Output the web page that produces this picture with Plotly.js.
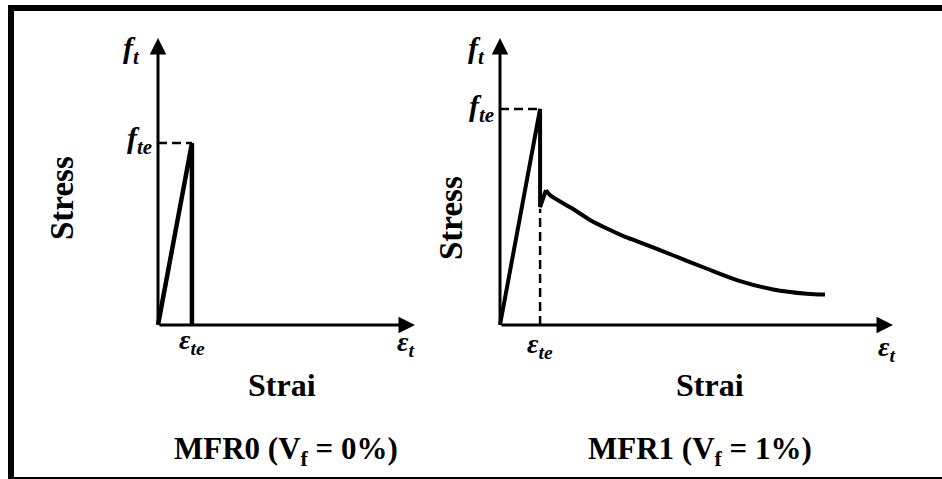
<!DOCTYPE html>
<html>
<head>
<meta charset="utf-8">
<script src="https://cdn.plot.ly/plotly-3.0.1.min.js"></script>
<style>
  html, body { margin: 0; padding: 0; background: #ffffff; }
  #chart { width: 942px; height: 479px; }
</style>
</head>
<body>
<div id="chart"></div>
<script>
// Schematic tensile stress-strain responses (normalised units:
// strain axis runs 0..10, stress axis runs 0..1 up to the arrow tips)

// MFR0: plain matrix, linear rise then sudden brittle failure
const mfr0Strain = [0, 1.32, 1.32];
const mfr0Stress = [0, 0.634, 0];

// MFR1: 1% fibres, linear rise, drop after cracking, small recovery
const mfr1Strain = [0, 1.02, 1.02, 1.17];
const mfr1Stress = [0, 0.753, 0.411, 0.470];

// MFR1 post-cracking softening branch
const softStrain = [1.17, 1.27, 1.86, 2.29, 2.72, 3.14, 3.56, 4.40, 5.27, 6.11, 6.95, 7.81, 8.27];
const softStress = [0.470, 0.453, 0.404, 0.366, 0.336, 0.310, 0.288, 0.243, 0.196, 0.153, 0.124, 0.109, 0.106];

// Peak points (cracking strength f_te at strain eps_te)
const peak0 = { strain: 1.32, stress: 0.634 };
const peak1 = { strain: 1.02, stress: 0.753 };

const panelTitles = ['MFR0 (V<sub>f</sub> = 0%)', 'MFR1 (V<sub>f</sub> = 1%)'];
const xLabel = 'Strai';
const yLabel = 'Stress';

const W = 942, H = 479;
const FONT = '"Liberation Serif", "Times New Roman", "DejaVu Serif", serif';
const X_END = 10, Y_END = 1;
const XPAD = 0.5, YPAD = 0.05;

const px = p => p / W;
const py = p => 1 - p / H;

// pixel anchors for each panel: origin and arrow tips
function domains(ox, tipX, oy, tipY) {
  const ux = (tipX - ox) / X_END;
  const uy = (oy - tipY) / Y_END;
  return {
    x: [px(ox - XPAD * ux), px(tipX + XPAD * ux)],
    y: [py(oy + YPAD * uy), py(tipY - YPAD * uy)]
  };
}
const dL = domains(158, 415, 325, 38);
const dR = domains(500, 893, 325, 38);

function hiddenAxis(domain, range, anchor) {
  return {
    domain: domain, range: range, anchor: anchor,
    showgrid: false, zeroline: false, showline: false,
    showticklabels: false, ticks: '', fixedrange: true
  };
}

const solid = { color: '#000', width: 4 };
const dashed = { color: '#000', width: 2.5, dash: '9px,5px' };

const traces = [
  { x: mfr0Strain, y: mfr0Stress, xaxis: 'x', yaxis: 'y', mode: 'lines',
    line: { color: '#000', width: 4.5 }, hoverinfo: 'skip' },
  { x: [0, peak0.strain], y: [peak0.stress, peak0.stress], xaxis: 'x', yaxis: 'y',
    mode: 'lines', line: dashed, hoverinfo: 'skip' },

  { x: [peak1.strain, peak1.strain], y: [0, 0.405], xaxis: 'x2', yaxis: 'y2',
    mode: 'lines', line: dashed, hoverinfo: 'skip' },
  { x: [0, peak1.strain], y: [peak1.stress, peak1.stress], xaxis: 'x2', yaxis: 'y2',
    mode: 'lines', line: dashed, hoverinfo: 'skip' },
  { x: mfr1Strain, y: mfr1Stress, xaxis: 'x2', yaxis: 'y2', mode: 'lines',
    line: solid, hoverinfo: 'skip' },
  { x: softStrain, y: softStress, xaxis: 'x2', yaxis: 'y2', mode: 'lines',
    line: { color: '#000', width: 4, shape: 'spline', smoothing: 0.8 }, hoverinfo: 'skip' }
];

function axisArrow(xr, yr, x, y) {
  return {
    xref: xr, yref: yr, axref: xr, ayref: yr,
    x: x, y: y, ax: 0, ay: 0, text: '',
    showarrow: true, arrowhead: 2, arrowsize: 1.1, arrowwidth: 3,
    arrowcolor: '#000', standoff: 0, startstandoff: 0
  };
}

function label(text, x, y, size, extra) {
  return Object.assign({
    xref: 'paper', yref: 'paper', x: x, y: y, text: text,
    showarrow: false, xanchor: 'center', yanchor: 'middle',
    font: { family: FONT, size: size, color: '#000' }
  }, extra || {});
}

const SYM = 30, EPS = 28, AXT = 32, VT = 33, TT = 31;

const annotations = [
  // axes with arrowheads
  axisArrow('x', 'y', X_END, 0), axisArrow('x', 'y', 0, Y_END),
  axisArrow('x2', 'y2', X_END, 0), axisArrow('x2', 'y2', 0, Y_END),

  // left panel
  label('<b><i>f<sub>t</sub></i></b>', px(131), py(50), SYM),
  label('<b><i>f<sub>te</sub></i></b>', 0, peak0.stress, SYM,
        { xref: 'x', yref: 'y', xanchor: 'right', xshift: -4, yshift: 3 }),
  label('<b><i>ε<sub>te</sub></i></b>', peak0.strain, py(341), EPS, { xref: 'x' }),
  label('<b><i>ε<sub>t</sub></i></b>', px(405), py(343), EPS),
  label('<b>' + yLabel + '</b>', px(62), py(198), VT, { textangle: -90 }),
  label('<b>' + xLabel + '</b>', px(282), py(385), AXT),
  label('<b>' + panelTitles[0] + '</b>', px(286), py(451), TT),

  // right panel
  label('<b><i>f<sub>t</sub></i></b>', px(476), py(50), SYM),
  label('<b><i>f<sub>te</sub></i></b>', 0, peak1.stress, SYM,
        { xref: 'x2', yref: 'y2', xanchor: 'right', xshift: -4, yshift: 1 }),
  label('<b><i>ε<sub>te</sub></i></b>', peak1.strain, py(345), EPS, { xref: 'x2' }),
  label('<b><i>ε<sub>t</sub></i></b>', px(886), py(348), EPS),
  label('<b>' + yLabel + '</b>', px(451), py(218), VT, { textangle: -90 }),
  label('<b>' + xLabel + '</b>', px(710), py(385), AXT),
  label('<b>' + panelTitles[1] + '</b>', px(700), py(451), TT)
];

const layout = {
  width: W, height: H,
  margin: { l: 0, r: 0, t: 0, b: 0 },
  paper_bgcolor: '#ffffff', plot_bgcolor: 'rgba(0,0,0,0)',
  showlegend: false,
  font: { family: FONT, color: '#000' },
  xaxis: hiddenAxis(dL.x, [-XPAD, X_END + XPAD], 'y'),
  yaxis: hiddenAxis(dL.y, [-YPAD, Y_END + YPAD], 'x'),
  xaxis2: hiddenAxis(dR.x, [-XPAD, X_END + XPAD], 'y2'),
  yaxis2: hiddenAxis(dR.y, [-YPAD, Y_END + YPAD], 'x2'),
  annotations: annotations,
  shapes: [{
    type: 'rect', xref: 'paper', yref: 'paper',
    x0: px(11), x1: px(952), y0: py(8), y1: py(480),
    line: { color: '#000', width: 6 }, fillcolor: 'rgba(0,0,0,0)', layer: 'above'
  }]
};

Plotly.newPlot('chart', traces, layout, { staticPlot: true, displayModeBar: false });
</script>
</body>
</html>
